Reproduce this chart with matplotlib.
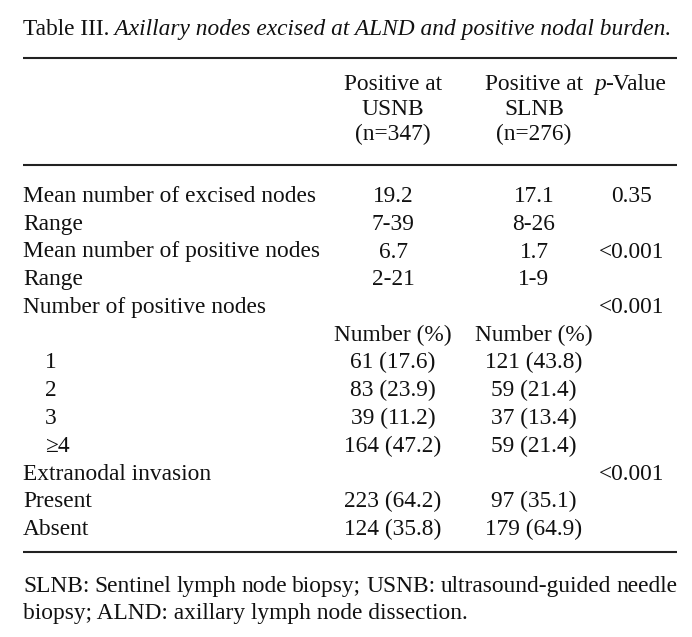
import matplotlib.pyplot as plt

W, H = 692, 637
FONT = "Liberation Serif"
FS = 16.8

title_plain = "Table III."
title_italic = " Axillary nodes excised at ALND and positive nodal burden."
col_head_usnb = ["Positive at", "USNB", "(n=347)"]
col_head_slnb = ["Positive at", "SLNB", "(n=276)"]

row_labels = ["Mean number of excised nodes", "Range", "Mean number of positive nodes",
              "Range", "Number of positive nodes", "", "1", "2", "3", "\u22654",
              "Extranodal invasion", "Present", "Absent"]
row_indent = [False, False, False, False, False, False, True, True, True, True,
              False, False, False]
usnb = ["19.2", "7-39", "6.7", "2-21", "", "Number (%)", "61 (17.6)", "83 (23.9)",
        "39 (11.2)", "164 (47.2)", "", "223 (64.2)", "124 (35.8)"]
slnb = ["17.1", "8-26", "1.7", "1-9", "", "Number (%)", "121 (43.8)", "59 (21.4)",
        "37 (13.4)", "59 (21.4)", "", "97 (35.1)", "179 (64.9)"]
pval = ["0.35", "", "<0.001", "", "<0.001", "", "", "", "", "", "<0.001", "", ""]
footnote = ["SLNB: Sentinel lymph node biopsy; USNB: ultrasound-guided needle",
            "biopsy; ALND: axillary lymph node dissection."]

fig = plt.figure(figsize=(W / 100, H / 100), dpi=100)
ax = fig.add_axes([0, 0, 1, 1])
ax.set_xlim(0, W)
ax.set_ylim(H, 0)
ax.axis("off")

kw = dict(family=FONT, fontsize=FS, va="baseline", color="#111111")


def right_edge(t):
    fig.canvas.draw()
    return t.get_window_extent().transformed(ax.transData.inverted()).x1


# title, plain part then italic part
t = ax.text(23, 35, title_plain, **kw)
ax.text(right_edge(t), 35, title_italic, style="italic", **kw)

# rules
for y in [58, 165, 552]:
    ax.plot([23, 677], [y, y], color="#222222", lw=1.5, solid_capstyle="butt")

# header
X1, X2, X3 = 393, 534, 632
for i, (a, b) in enumerate(zip(col_head_usnb, col_head_slnb)):
    y = 90 + 25 * i
    ax.text(X1, y, a, ha="center", **kw)
    ax.text(X2, y, b, ha="center", **kw)
p = ax.text(594, 90, "p", style="italic", **kw)
ax.text(right_edge(p) - 1, 90, "-Value", **kw)

# body
for i, lab in enumerate(row_labels):
    y = 202 + 27.75 * i
    ax.text(45 if row_indent[i] else 23, y, lab, **kw)
    ax.text(X1, y, usnb[i], ha="center", **kw)
    ax.text(X2, y, slnb[i], ha="center", **kw)
    ax.text(X3, y, pval[i], ha="center", **kw)

# footnote, first line justified to the rule width
words = footnote[0].split(" ")
arts = [ax.text(0, 592, w, **kw) for w in words]
fig.canvas.draw()
inv = ax.transData.inverted()
widths = [a.get_window_extent().transformed(inv).width for a in arts]
gap = (677 - 23 - sum(widths)) / (len(words) - 1)
x = 23
for a, w in zip(arts, widths):
    a.set_x(x)
    x += w + gap
ax.text(23, 619, footnote[1], **kw)

fig.savefig("out.png", dpi=100)
